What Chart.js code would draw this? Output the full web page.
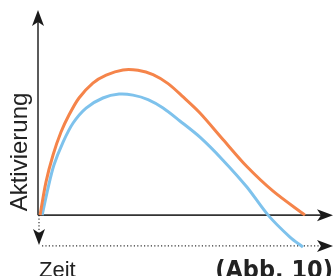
<!DOCTYPE html>
<html lang="de">
<head>
  <meta charset="UTF-8">
  <title>Aktivierung über Zeit</title>
  <script src="https://cdn.jsdelivr.net/npm/chart.js"></script>
  <style>
    html, body {
      margin: 0;
      padding: 0;
      background: #fff;
    }
    .chart-container {
      width: 335px;
      height: 276px;
      position: relative;
    }
  </style>
</head>
<body>
  <div class="chart-container">
    <canvas id="chart"></canvas>
  </div>

  <script>
    // Orange curve (upper)
    const timeOrange = [0.07, 0.27, 0.51, 0.78, 1.05, 1.39, 1.86, 2.31, 2.88, 3.39, 3.90, 4.41, 4.92, 5.49, 6.27, 7.08, 7.97, 9.05];
    const activOrange = [0, 1.61, 2.93, 4.05, 4.88, 5.71, 6.44, 6.83, 7.08, 7.06, 6.85, 6.41, 5.76, 4.98, 3.69, 2.37, 1.17, 0];

    // Blue curve (lower, ends below zero)
    const timeBlue = [0.14, 0.34, 0.54, 0.85, 1.19, 1.63, 2.20, 2.75, 3.22, 3.73, 4.24, 4.81, 5.49, 6.27, 7.08, 7.80, 8.54, 8.98];
    const activBlue = [0, 1.32, 2.44, 3.56, 4.49, 5.22, 5.71, 5.90, 5.85, 5.63, 5.22, 4.59, 3.80, 2.68, 1.37, 0, -1.07, -1.56];

    const axisLabelY = "Aktivierung";
    const axisLabelX = "Zeit";
    const figureLabel = "(Abb. 10)";
    const dottedLevel = -1.5;

    function toPoints(xs, ys) {
      return xs.map((x, i) => ({ x: x, y: ys[i] }));
    }

    function arrowHead(ctx, tipX, tipY, dir) {
      // dir: "up", "down", "right"
      ctx.save();
      ctx.translate(tipX, tipY);
      if (dir === "down") ctx.rotate(Math.PI);
      if (dir === "right") ctx.rotate(Math.PI / 2);
      ctx.beginPath();
      ctx.moveTo(0, 0);
      ctx.lineTo(6, 16);
      ctx.lineTo(0, 12);
      ctx.lineTo(-6, 16);
      ctx.closePath();
      ctx.fill();
      ctx.restore();
    }

    const axesPlugin = {
      id: "axesPlugin",
      beforeDatasetsDraw(chart) {
        const ctx = chart.ctx;
        const xs = chart.scales.x;
        const ys = chart.scales.y;
        const x0 = xs.getPixelForValue(0);
        const y0 = ys.getPixelForValue(0);
        const xEnd = xs.getPixelForValue(10);
        const yTop = ys.getPixelForValue(10);
        const yDot = ys.getPixelForValue(dottedLevel);

        ctx.save();
        ctx.strokeStyle = "#333";
        ctx.fillStyle = "#1a1a1a";

        // solid axes
        ctx.lineWidth = 1.6;
        ctx.beginPath();
        ctx.moveTo(x0, y0);
        ctx.lineTo(x0, yTop + 10);
        ctx.moveTo(x0, y0);
        ctx.lineTo(xEnd - 10, y0);
        ctx.stroke();
        arrowHead(ctx, x0, yTop, "up");
        arrowHead(ctx, xEnd, y0, "right");

        // dotted axes
        ctx.lineWidth = 1.2;
        ctx.setLineDash([1.2, 2.2]);
        ctx.beginPath();
        ctx.moveTo(x0 + 1, y0);
        ctx.lineTo(x0 + 1, yDot - 12);
        ctx.moveTo(x0 + 4, yDot);
        ctx.lineTo(xEnd - 10, yDot);
        ctx.stroke();
        ctx.setLineDash([]);
        arrowHead(ctx, x0 + 1, yDot - 1, "down");
        arrowHead(ctx, xEnd, yDot, "right");
        ctx.restore();
      },
      afterDraw(chart) {
        const ctx = chart.ctx;
        ctx.save();
        ctx.fillStyle = "#222";
        ctx.textBaseline = "alphabetic";

        ctx.font = "24px 'Liberation Sans', Arial, sans-serif";
        ctx.save();
        ctx.translate(27, 152);
        ctx.rotate(-Math.PI / 2);
        ctx.textAlign = "center";
        ctx.fillText(axisLabelY, 0, 0);
        ctx.restore();

        ctx.font = "22px 'Liberation Sans', Arial, sans-serif";
        ctx.textAlign = "left";
        ctx.fillText(axisLabelX, 39, 277);

        ctx.font = "bold 25px 'DejaVu Sans Condensed', 'Liberation Sans Narrow', sans-serif";
        ctx.textAlign = "right";
        ctx.fillText(figureLabel, 333, 278);
        ctx.restore();
      }
    };

    new Chart(document.getElementById("chart"), {
      type: "line",
      data: {
        datasets: [
          {
            label: "orange",
            data: toPoints(timeOrange, activOrange),
            borderColor: "#F5844A",
            borderWidth: 3,
            pointRadius: 0,
            tension: 0.3,
            fill: false
          },
          {
            label: "blau",
            data: toPoints(timeBlue, activBlue),
            borderColor: "#7EC2EC",
            borderWidth: 3,
            pointRadius: 0,
            tension: 0.3,
            fill: false
          }
        ]
      },
      options: {
        responsive: true,
        maintainAspectRatio: false,
        animation: false,
        layout: {
          padding: { left: 38, top: 10, right: 2, bottom: 26 }
        },
        plugins: {
          legend: { display: false },
          tooltip: { enabled: false }
        },
        scales: {
          x: { type: "linear", min: 0, max: 10, display: false },
          y: { type: "linear", min: -1.7, max: 10, display: false }
        }
      },
      plugins: [axesPlugin]
    });
  </script>
</body>
</html>
